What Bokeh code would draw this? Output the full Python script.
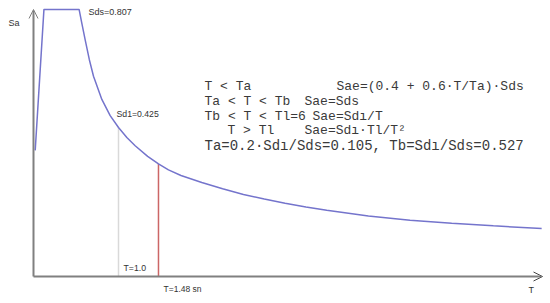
import numpy as np
from bokeh.plotting import figure
from bokeh.models import Range1d, Label, Arrow, OpenHead
from bokeh.embed import file_html
from bokeh.resources import INLINE

# ---- data ----
T_curve = [0.0, 0.105, 0.527, 0.56, 0.6, 0.65, 0.7, 0.8, 0.9, 1.0, 1.1, 1.2,
           1.35, 1.48, 1.6, 1.75, 2.0, 2.25, 2.5, 2.75, 3.0, 3.25, 3.5, 4.0,
           4.5, 5.0, 5.5, 6.08]
Sa_curve = [0.381, 0.807, 0.807, 0.765, 0.715, 0.655, 0.605, 0.535, 0.486,
            0.45, 0.42, 0.395, 0.363, 0.34, 0.322, 0.305, 0.284, 0.265, 0.248,
            0.234, 0.221, 0.210, 0.200, 0.183, 0.170, 0.161, 0.153, 0.145]
T_marks = [1.0, 1.48]
mark_colors = ["#d9d9d9", "#cc6666"]
mark_labels = ["T=1.0", "T=1.48 sn"]
Sds_label = "Sds=0.807"
Sd1_label = "Sd1=0.425"
cond_lines = ["T < Ta", "Ta < T < Tb", "Tb < T < Tl=6", "T > Tl"]
form_lines = ["Sae=(0.4 + 0.6\u00b7T/Ta)\u00b7Sds", "Sae=Sds", "Sae=Sd\u0131/T",
              "Sae=Sd\u0131\u00b7Tl/T\u00b2"]
last_line = "Ta=0.2\u00b7Sd\u0131/Sds=0.105, Tb=Sd\u0131/Sds=0.527"

W, H = 550, 303
OX, OY = 0, 0  # page offset of canvas

# mapping: page x = 34.7 + 83.3*T ; page y = 276 - 331*Sa
x0 = (OX - 34.7) / 83.3
x1 = (OX + W - 34.7) / 83.3
y1 = (276 - OY) / 331.0
y0 = (276 - (OY + H)) / 331.0

p = figure(width=W, height=H, output_backend="svg", toolbar_location=None,
           x_range=Range1d(x0, x1), y_range=Range1d(y0, y1),
           min_border=0, outline_line_color=None)
p.axis.visible = False
p.grid.visible = False
p.background_fill_color = "white"
p.border_fill_color = "white"

axis_col = "#808080"
ax_x = (33 - 34.7) / 83.3
x_end = (542 - 34.7) / 83.3
y_top = (276 - 9) / 331.0

# marker lines
Sa_marks = np.interp(T_marks, T_curve, Sa_curve)
for t, s, c in zip(T_marks, Sa_marks, mark_colors):
    p.segment(x0=[t], y0=[0], x1=[t], y1=[s], line_color=c, line_width=1.5)

# spectrum curve
p.line(T_curve, Sa_curve, line_color="#7474cc", line_width=1.5)

# axes with arrows
p.add_layout(Arrow(end=OpenHead(size=9, line_color=axis_col, line_width=1),
                   x_start=ax_x, y_start=0, x_end=ax_x, y_end=y_top,
                   line_color=axis_col, line_width=2))
p.add_layout(Arrow(end=OpenHead(size=9, line_color="#444444", line_width=1),
                   x_start=ax_x, y_start=0, x_end=x_end, y_end=0,
                   line_color=axis_col, line_width=2))


def lab(xp, yp, text, size="9px", font="Liberation Sans", color="#333333"):
    p.add_layout(Label(x=xp - OX, y=OY + H - yp, x_units="screen", y_units="screen",
                       text=text, text_font=font, text_font_size=size,
                       text_color=color, text_baseline="middle", text_align="left"))


lab(8, 22, "Sa")
lab(88, 11, Sds_label)
lab(116, 113, Sd1_label, size="8.7px")
lab(123, 267, mark_labels[0], size="8.7px")
lab(163, 288, mark_labels[1], size="8.5px")
lab(528, 289, "T")

mono = "Liberation Mono"
fs = "13px"
tc = "#3a3a3a"
ys = [86, 101, 116, 130]
cx = [204, 204, 204, 227]
fx = [336, 304, 312, 304]
for c, f, y, xc, xf in zip(cond_lines, form_lines, ys, cx, fx):
    lab(xc, y, c, size=fs, font=mono, color=tc)
    lab(xf, y, f, size=fs, font=mono, color=tc)
lab(204, 145, last_line, size="14px", font=mono, color=tc)

open("out.html", "w").write(file_html(p, INLINE))
